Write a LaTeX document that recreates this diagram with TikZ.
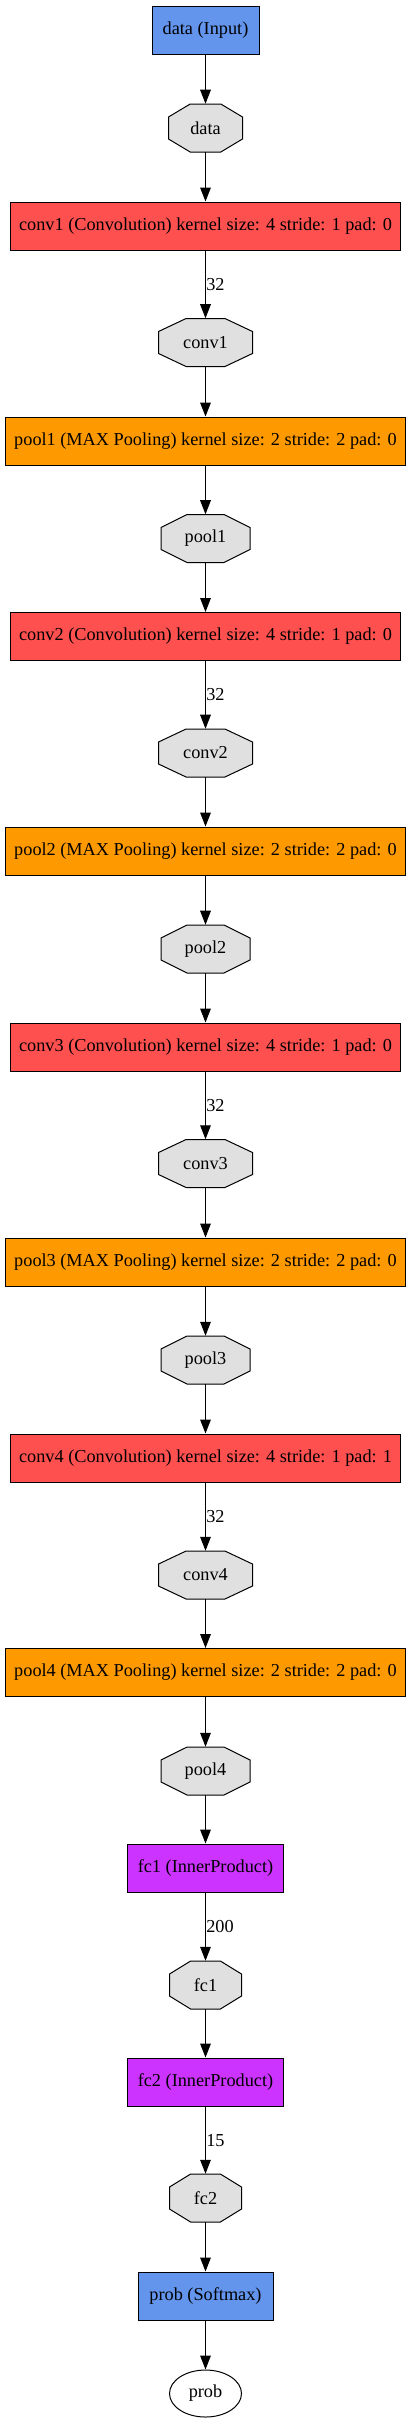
\documentclass[tikz,border=0pt]{standalone}
\usepackage{fontspec}
\setmainfont{Liberation Serif}
\usetikzlibrary{shapes.geometric,arrows.meta}
\definecolor{layerblue}{HTML}{6495ED}
\definecolor{convred}{HTML}{FF5050}
\definecolor{poolorange}{HTML}{FF9900}
\definecolor{fcmagenta}{HTML}{CC33FF}
\definecolor{blobgray}{HTML}{E0E0E0}
% #1 name, #2 centre y (px), #3 width (px), #4 text
\newcommand\octblob[4]{%
  \pgfmathsetmacro\octhw{#3/2}%
  \pgfmathsetmacro\octcx{0.293*#3}%
  \draw[blobline] (205.5-\octhw+\octcx,#2-24) -- (205.5+\octhw-\octcx,#2-24)
    -- (205.5+\octhw,#2-11) -- (205.5+\octhw,#2+11)
    -- (205.5+\octhw-\octcx,#2+24) -- (205.5-\octhw+\octcx,#2+24)
    -- (205.5-\octhw,#2+11) -- (205.5-\octhw,#2-11) -- cycle;
  \node[blobtext, minimum width=#3*0.75pt] (#1) at (205.5,#2) {#4};
}
\begin{document}
\begin{tikzpicture}[x=0.75pt,y=-0.75pt,
  every node/.style={font=\fontsize{13.7}{16}\selectfont, inner sep=0pt},
  layer/.style={rectangle, draw=black, line width=0.75pt, minimum height=36pt},
  inputlayer/.style={layer, fill=layerblue, minimum width=80.25pt},
  convlayer/.style={layer, fill=convred, minimum width=292.5pt},
  poollayer/.style={layer, fill=poolorange, minimum width=300pt},
  fclayer/.style={layer, fill=fcmagenta, minimum width=117pt},
  softlayer/.style={layer, fill=layerblue, minimum width=101.25pt},
  blobline/.style={draw=black, line width=0.75pt, fill=blobgray, line join=miter},
  blobtext/.style={rectangle, minimum height=36pt},
  outblob/.style={ellipse, draw=black, line width=0.75pt, fill=white,
    minimum width=54pt, minimum height=35.25pt},
  edge/.style={draw=black, line width=0.75pt, -{Triangle[length=10.5pt,width=8pt]}},
  elabel/.style={anchor=west, inner sep=0pt, xshift=0.2pt}
]
\useasboundingbox (0,0) rectangle (411,2425);

\node[inputlayer] (datain) at (205.5,30) {data (Input)};
\octblob{data}{128}{74}{data}
\node[convlayer] (conv1L) at (205.5,226) {conv1 (Convolution) kernel size: 4 stride: 1 pad: 0};
\octblob{conv1}{342.5}{94}{conv1}
\node[poollayer] (pool1L) at (205.5,441) {pool1 (MAX Pooling) kernel size: 2 stride: 2 pad: 0};
\octblob{pool1}{538.5}{89}{pool1}
\node[convlayer] (conv2L) at (205.5,636.5) {conv2 (Convolution) kernel size: 4 stride: 1 pad: 0};
\octblob{conv2}{753}{94}{conv2}
\node[poollayer] (pool2L) at (205.5,851) {pool2 (MAX Pooling) kernel size: 2 stride: 2 pad: 0};
\octblob{pool2}{949}{89}{pool2}
\node[convlayer] (conv3L) at (205.5,1047) {conv3 (Convolution) kernel size: 4 stride: 1 pad: 0};
\octblob{conv3}{1163.5}{94}{conv3}
\node[poollayer] (pool3L) at (205.5,1262) {pool3 (MAX Pooling) kernel size: 2 stride: 2 pad: 0};
\octblob{pool3}{1360}{89}{pool3}
\node[convlayer] (conv4L) at (205.5,1458) {conv4 (Convolution) kernel size: 4 stride: 1 pad: 1};
\octblob{conv4}{1575}{94}{conv4}
\node[poollayer] (pool4L) at (205.5,1672.5) {pool4 (MAX Pooling) kernel size: 2 stride: 2 pad: 0};
\octblob{pool4}{1771}{89}{pool4}
\node[fclayer] (fc1L) at (205.5,1868) {fc1 (InnerProduct)};
\octblob{fc1}{1985}{72}{fc1}
\node[fclayer] (fc2L) at (205.5,2082) {fc2 (InnerProduct)};
\octblob{fc2}{2198}{72}{fc2}
\node[softlayer] (probL) at (205.5,2296) {prob (Softmax)};
\node[outblob] (prob) at (205.5,2393.5) {prob};

\draw[edge] (datain) -- (data);
\draw[edge] (data) -- (conv1L);
\draw[edge] (conv1L) -- node[elabel] {32} (conv1);
\draw[edge] (conv1) -- (pool1L);
\draw[edge] (pool1L) -- (pool1);
\draw[edge] (pool1) -- (conv2L);
\draw[edge] (conv2L) -- node[elabel] {32} (conv2);
\draw[edge] (conv2) -- (pool2L);
\draw[edge] (pool2L) -- (pool2);
\draw[edge] (pool2) -- (conv3L);
\draw[edge] (conv3L) -- node[elabel] {32} (conv3);
\draw[edge] (conv3) -- (pool3L);
\draw[edge] (pool3L) -- (pool3);
\draw[edge] (pool3) -- (conv4L);
\draw[edge] (conv4L) -- node[elabel] {32} (conv4);
\draw[edge] (conv4) -- (pool4L);
\draw[edge] (pool4L) -- (pool4);
\draw[edge] (pool4) -- (fc1L);
\draw[edge] (fc1L) -- node[elabel] {200} (fc1);
\draw[edge] (fc1) -- (fc2L);
\draw[edge] (fc2L) -- node[elabel] {15} (fc2);
\draw[edge] (fc2) -- (probL);
\draw[edge] (probL) -- (prob);
\end{tikzpicture}
\end{document}
